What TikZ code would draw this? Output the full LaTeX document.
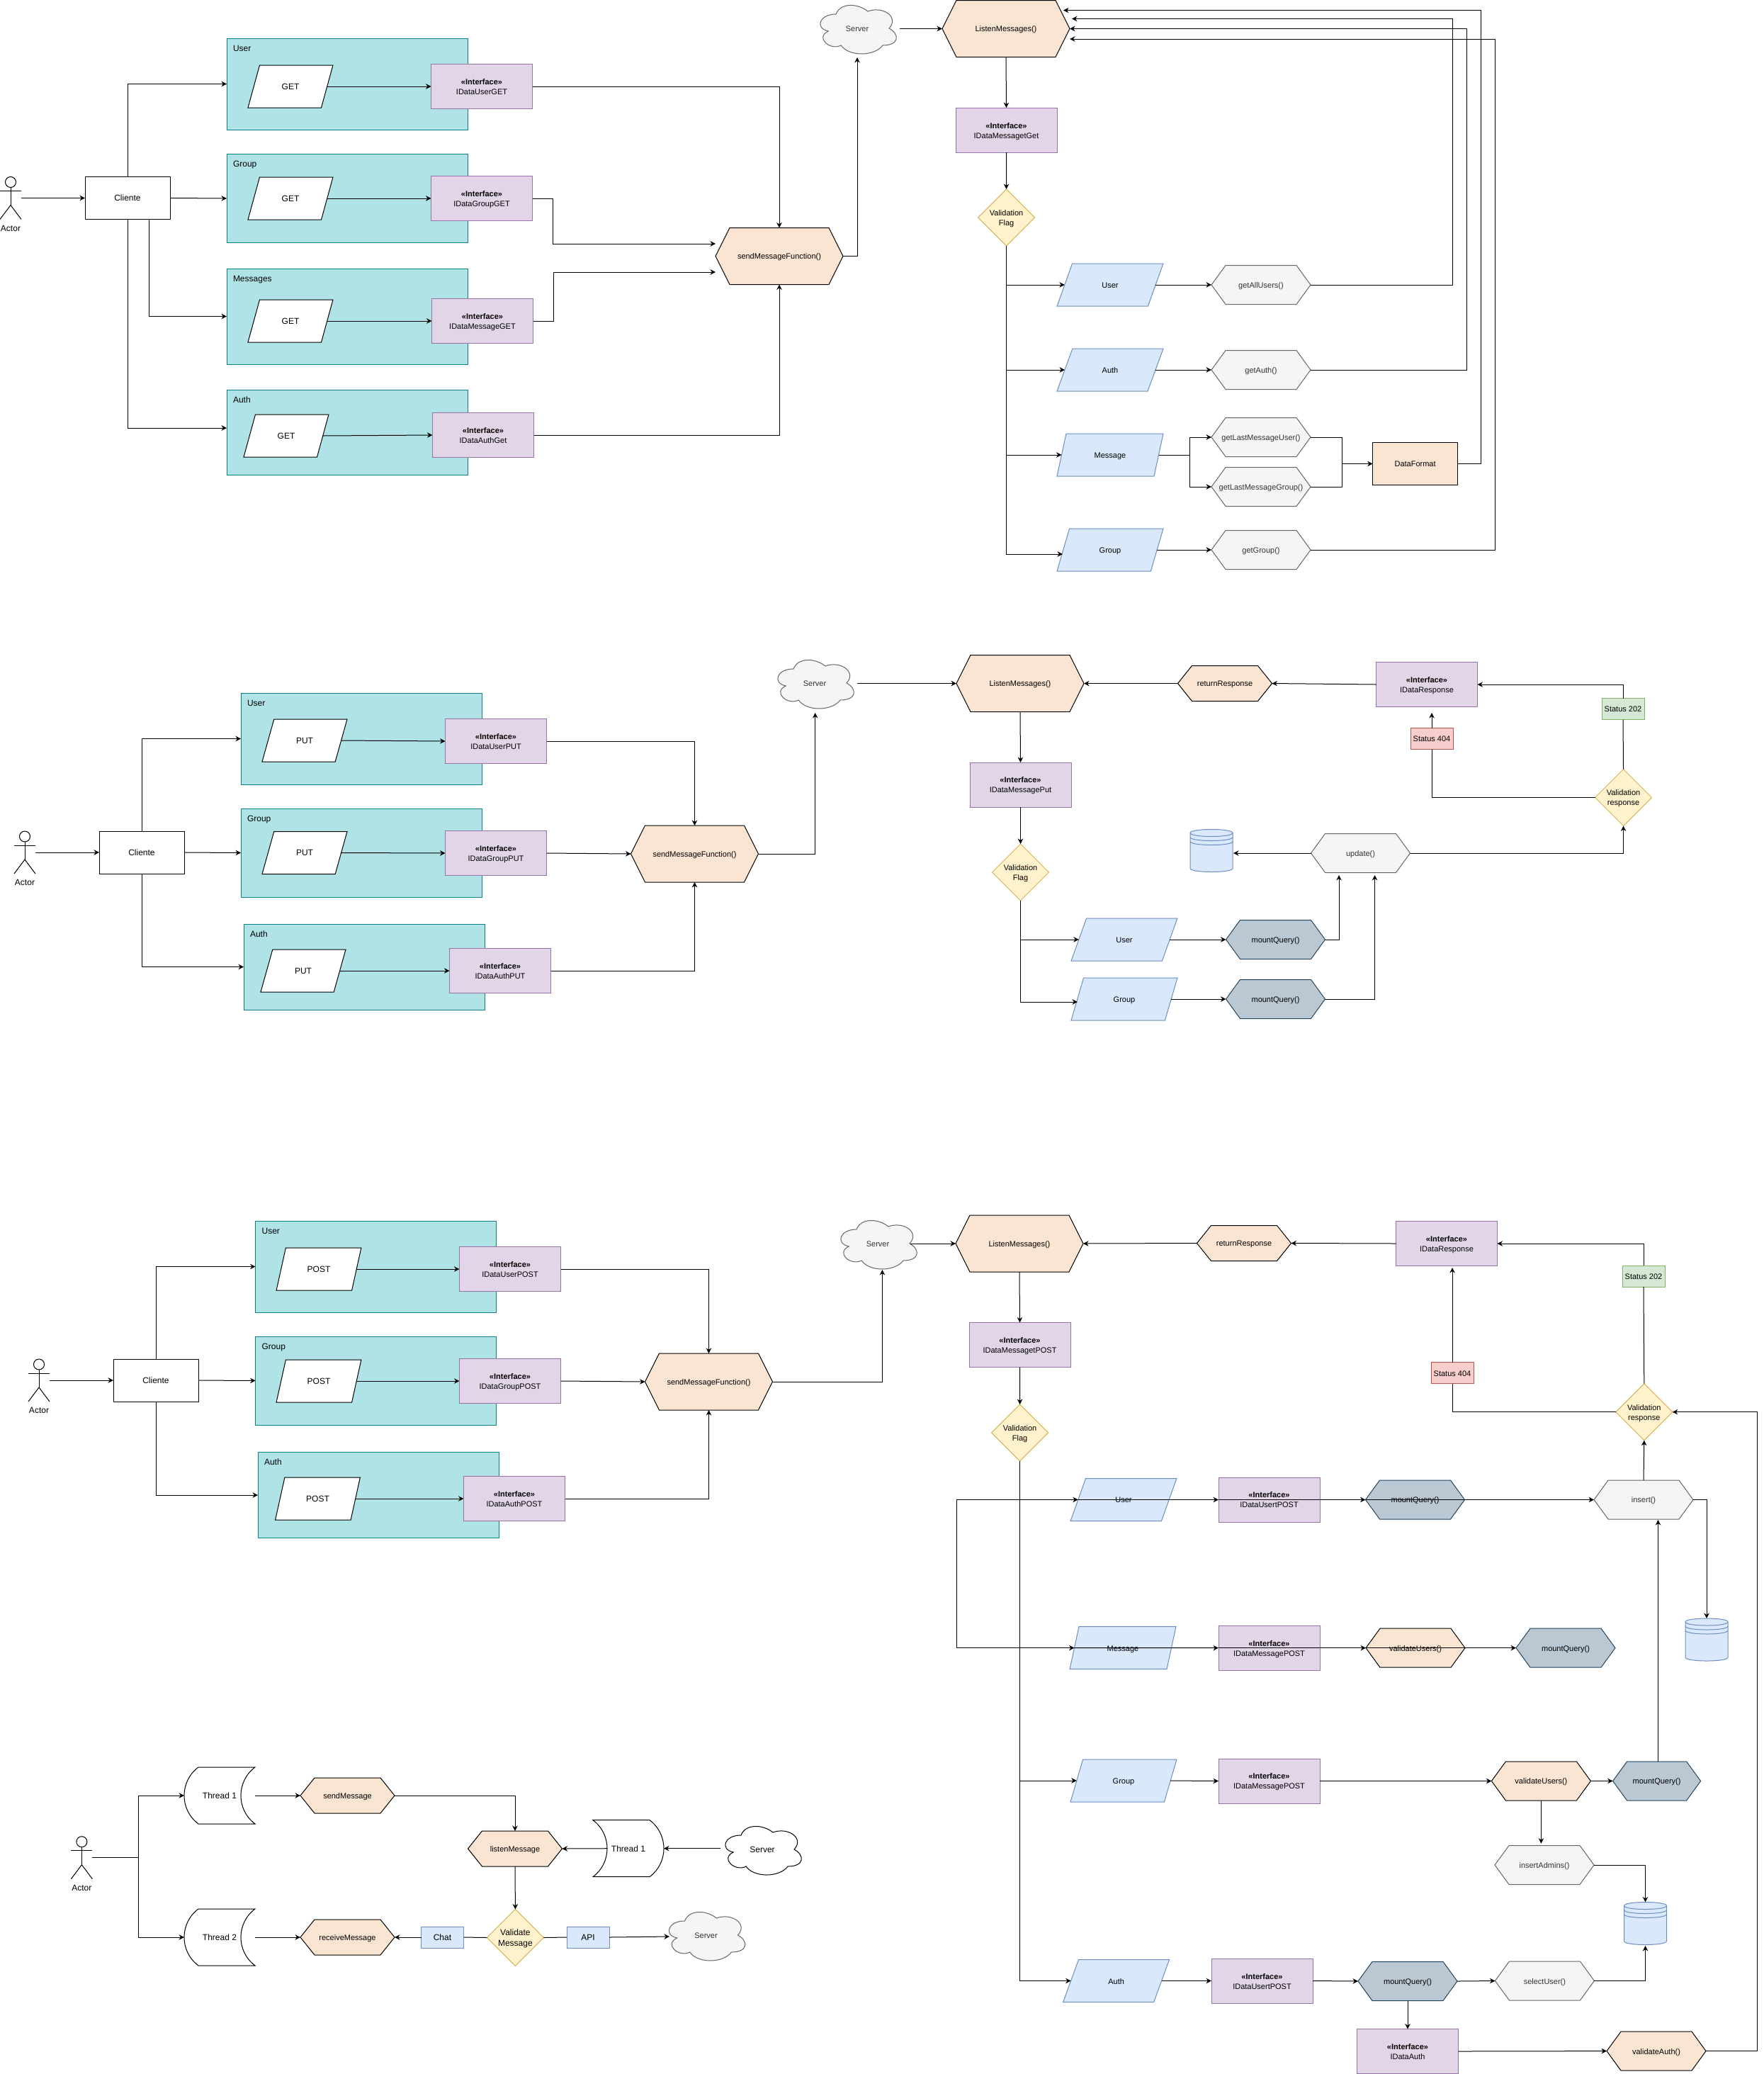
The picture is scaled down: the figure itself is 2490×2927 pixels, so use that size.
\documentclass[tikz,border=0pt]{standalone}
\usepackage{fontspec}
\setmainfont{Liberation Sans}
\usetikzlibrary{positioning,shapes.geometric,shapes.symbols,arrows.meta}

\newcommand{\px}{*0.75pt}
\newcommand{\fontS}{\fontsize{8.25}{10.5}\selectfont}
\newcommand{\fontM}{\fontsize{9}{11}\selectfont}
\newcommand{\tstrut}{\rule[-1.9pt]{0pt}{10.5pt}}
\newcommand{\hexlabel}[1]{\makebox[0pt]{\tstrut #1}}

\definecolor{tealFill}{HTML}{B0E3E6}
\definecolor{tealLine}{HTML}{0E8088}
\definecolor{purpleFill}{HTML}{E1D5E7}
\definecolor{purpleLine}{HTML}{9673A6}
\definecolor{orangeFill}{HTML}{FAE5D3}
\definecolor{blueFill}{HTML}{DAE8FC}
\definecolor{blueLine}{HTML}{6C8EBF}
\definecolor{greyFill}{HTML}{F5F5F5}
\definecolor{greyLine}{HTML}{666666}
\definecolor{greyText}{HTML}{333333}
\definecolor{yellowFill}{HTML}{FFF2CC}
\definecolor{yellowLine}{HTML}{D6B656}
\definecolor{redFill}{HTML}{F8CECC}
\definecolor{redLine}{HTML}{B85450}
\definecolor{greenFill}{HTML}{D5E8D4}
\definecolor{greenLine}{HTML}{82B366}
\definecolor{steelFill}{HTML}{BAC8D3}
\definecolor{steelLine}{HTML}{23445D}

\tikzset{
	every node/.style={inner sep=0pt, outer sep=0pt, align=center, font=\fontS},
	line/.style={line width=1\px, black},
	flow/.style={line, -{Stealth[length=7.5\px, width=7.5\px]}},
	box/.style 2 args={rectangle, minimum width=#1\px, minimum height=#2\px},
	hexa/.style 2 args={signal, signal to=east and west, signal pointer angle={2*atan(#2/40)},
		minimum width=#1\px, minimum height=#2\px},
	skew/.style={trapezium, trapezium left angle=71.57, trapezium right angle=108.43,
		trapezium stretches=true, minimum height=60\px},
	panel/.style={draw=tealLine, fill=tealFill, line width=1\px},
	paneltitle/.style={anchor=west, font=\fontM},
	method/.style={skew, minimum width=120\px, draw=black, fill=white, line width=1\px, font=\fontM},
	iface/.style={box={143}{63}, draw=purpleLine, fill=purpleFill, line width=1\px},
	datapara/.style={skew, minimum width=150\px, draw=blueLine, fill=blueFill, line width=1\px},
	orangehex/.style={draw=black, fill=orangeFill, line width=1\px},
	greyhex/.style={hexa={140}{55}, draw=greyLine, fill=greyFill, line width=1\px, text=greyText},
	steelhex/.style={hexa={140}{55}, draw=steelLine, fill=steelFill, line width=1\px},
	cliente/.style={box={120}{60}, draw=black, fill=white, line width=1\px, font=\fontM},
	check/.style={diamond, aspect=1, minimum width=80\px, minimum height=80\px,
		draw=yellowLine, fill=yellowFill, line width=1\px},
	status404/.style={box={60}{30}, draw=redLine, fill=redFill, line width=1\px},
	status202/.style={box={60}{30}, draw=greenLine, fill=greenFill, line width=1\px},
	tagbox/.style={box={60}{30}, draw=blueLine, fill=blueFill, line width=1\px, font=\fontM},
	greycloud/.style={draw=greyLine, fill=greyFill, line width=1\px},
	whitecloud/.style={draw=black, fill=white, line width=1\px},
	ghost/.style={box={#1}{60}},
}

% stick figure, centred on the node
\newcommand{\actorman}[3]{
	\node[ghost=30] (#1) at (#2,#3) {};
	\node[font=\fontM] (#1-lbl) at (#2,#3+42.5) {\tstrut Actor};
	\draw[line] (#2,#3-22.5) circle (7.5\px);
	\draw[line] (#2-15,#3-10) -- (#2+15,#3-10);
	\draw[line] (#2,#3-15) -- (#2,#3+10);
	\draw[line] (#2-15,#3+30) -- (#2,#3+10) -- (#2+15,#3+30);
}

% data store with its three rings
\newcommand{\datastore}[3]{
	\node[ghost=60] (#1) at (#2,#3) {};
	\draw[draw=blueLine, fill=blueFill, line width=1\px] (#2-30,#3-25)
		.. controls (#2-30,#3-31.67) and (#2+30,#3-31.67) .. (#2+30,#3-25)
		-- (#2+30,#3+25)
		.. controls (#2+30,#3+31.67) and (#2-30,#3+31.67) .. (#2-30,#3+25) -- cycle;
	\foreach \k in {0,6,12}
		\draw[draw=blueLine, line width=1\px] (#2-30,#3-25+\k)
			.. controls (#2-30,#3-18.33+\k) and (#2+30,#3-18.33+\k) .. (#2+30,#3-25+\k);
}

% server cloud, #4 = outline style, #5 = text style
\newcommand{\srvshape}[5]{
	\draw[#4] (#2-30,#3-20)
		.. controls (#2-54,#3-20) and (#2-60,#3) .. (#2-40.8,#3+4)
		.. controls (#2-60,#3+12.8) and (#2-38.4,#3+32) .. (#2-22.8,#3+24)
		.. controls (#2-12,#3+40) and (#2+24,#3+40) .. (#2+36,#3+24)
		.. controls (#2+60,#3+24) and (#2+60,#3+8) .. (#2+45,#3)
		.. controls (#2+60,#3-16) and (#2+36,#3-32) .. (#2+15,#3-24)
		.. controls (#2,#3-36) and (#2-24,#3-36) .. (#2-30,#3-20) -- cycle;
	\node[box={120}{80}, #5] (#1) at (#2,#3) {\tstrut Server};
}

% thread box, #2 = 1 or -1 for the side of the bulge
\newcommand{\threadbox}[5]{
	\node[box={100}{80}, font=\fontM] (#1) at (#3,#4) {\tstrut #5};
	\draw[line] (#3-#2*30,#4-40) -- (#3+#2*50,#4-40)
		.. controls (#3+#2*23.3,#4-20) and (#3+#2*23.3,#4+20) .. (#3+#2*50,#4+40)
		-- (#3-#2*30,#4+40)
		.. controls (#3-#2*56.7,#4+20) and (#3-#2*56.7,#4-20) .. (#3-#2*30,#4-40);
}

\begin{document}
\begin{tikzpicture}[x=0.75pt, y=-0.75pt]
	\useasboundingbox (0,0) rectangle (2490,2927);

	% panels with their method and interface
	\foreach \nm/\ttl/\pcx/\pcy/\ph/\meth/\mx/\my/\ix/\iy/\ifname in {
		userGet/User/490/118.5/129/GET/410/122/680/122/IDataUserGET,
		groupGet/Group/490/280/125/GET/410/280/680/280/IDataGroupGET,
		msgGet/Messages/490/446.5/135/GET/410/453/681/453/IDataMessageGET,
		authGet/Auth/490/610/120/GET/404/615/682/614/IDataAuthGet,
		userPut/User/510/1042.5/129/PUT/430/1045/700/1046/IDataUserPUT,
		groupPut/Group/510/1203.5/125/PUT/430/1203.5/700/1204/IDataGroupPUT,
		authPut/Auth/514/1364.5/121/PUT/428/1370/706/1370/IDataAuthPUT,
		userPost/User/530.6/1787.5/129/POST/450/1791/720/1791/IDataUserPOST,
		groupPost/Group/530.6/1948.5/125/POST/450/1949/720/1949/IDataGroupPOST,
		authPost/Auth/534/2110/121/POST/448.5/2115/726/2115/IDataAuthPOST} {
		\node[panel, box={340}{\ph}] (\nm-p) at (\pcx,\pcy) {};
		\node[paneltitle] (\nm-t) at ([xshift=9\px, yshift=-14\px]\nm-p.north west) {\tstrut\ttl};
		\node[method] (\nm-m) at (\mx,\my) {\tstrut\meth};
		\node[iface] (\nm-i) at (\ix,\iy) {\tstrut\textbf{«Interface»}\\\tstrut\ifname};
		\draw[flow] (\nm-m.right side) -- (\nm-i.west);
	}

	% clients and actors
	\node[cliente] (cliGet) at (180,279.5) {\tstrut Cliente};
	\node[cliente] (cliPut) at (200,1203) {\tstrut Cliente};
	\node[cliente] (cliPost) at (220,1948) {\tstrut Cliente};
	\actorman{actorGet}{15}{279.5}
	\actorman{actorPut}{35}{1203}
	\actorman{actorPost}{55}{1948}
	\actorman{actorMsg}{115.4}{2621.7}

	% big hexagons
	\foreach \nm/\lbl/\x/\y in {
		sendGet/sendMessageFunction()/1100/361.5,
		lstGet/ListenMessages()/1420/40.5,
		sendPut/sendMessageFunction()/980.5/1205,
		lstPut/ListenMessages()/1440/964.5,
		sendPost/sendMessageFunction()/1000.5/1950,
		lstPost/ListenMessages()/1439/1755}
		\node[hexa={180}{80}, orangehex] (\nm) at (\x,\y) {\hexlabel{\lbl}};

	% small orange hexagons
	\foreach \nm/\lbl/\x/\y in {
		retPut/returnResponse/1729/964.5,
		retPost/returnResponse/1756/1754.5,
		sendMsg/sendMessage/490.5/2534,
		recvMsg/receiveMessage/490.5/2734,
		lstMsg/listenMessage/727/2609}
		\node[hexa={133}{50}, orangehex] (\nm) at (\x,\y) {\hexlabel{\lbl}};
	\foreach \nm/\lbl/\x/\y in {
		valUsersMsg/validateUsers()/1998/2325.7,
		valUsersGrp/validateUsers()/2175.4/2513.5,
		valAuth/validateAuth()/2338/2894.6}
		\node[hexa={140}{55}, orangehex] (\nm) at (\x,\y) {\hexlabel{\lbl}};

	% interfaces of the right side
	\foreach \nm/\lbl/\x/\y in {
		ifGet/IDataMessagetGet/1420.5/183.7,
		ifPut/IDataMessagePut/1440.5/1107.5,
		ifPost/IDataMessagetPOST/1439.5/1898,
		ifRespPut/IDataResponse/2014/966,
		ifRespPost/IDataResponse/2042/1755,
		ifUserRow/IDataUsertPOST/1791.5/2116.5,
		ifMsgRow/IDataMessagePOST/1791.5/2325.7,
		ifGrpRow/IDataMessagePOST/1791.5/2513.5,
		ifAuthRow/IDataUsertPOST/1781.5/2795.5,
		ifAuth/IDataAuth/1987/2895}
		\node[iface] (\nm) at (\x,\y) {\tstrut\textbf{«Interface»}\\\tstrut\lbl};

	% blue parallelograms
	\foreach \nm/\lbl/\x/\y in {
		pUserGet/User/1567/402,
		pAuthGet/Auth/1567/522,
		pMsgGet/Message/1567/642,
		pGrpGet/Group/1567/776,
		pUserPut/User/1587/1326,
		pGrpPut/Group/1587/1410,
		pUserPost/User/1586/2116.5,
		pMsgPost/Message/1585/2325.6,
		pGrpPost/Group/1586/2513,
		pAuthPost/Auth/1575.6/2795.5}
		\node[datapara] (\nm) at (\x,\y) {\tstrut\lbl};

	% grey hexagons
	\foreach \nm/\lbl/\x/\y in {
		getUsers/getAllUsers()/1780/402,
		getAuth/getAuth()/1780/522,
		getLastUser/getLastMessageUser()/1780/617,
		getLastGroup/getLastMessageGroup()/1780/687,
		getGroup/getGroup()/1780/776,
		updatePut/update()/1920.5/1204,
		insertPost/insert()/2320/2116.5,
		insertAdm/insertAdmins()/2180/2632,
		selectUsr/selectUser()/2180.4/2795.5}
		\node[greyhex] (\nm) at (\x,\y) {\hexlabel{\lbl}};

	% dark hexagons
	\foreach \nm/\x/\y in {
		mntPutA/1800.5/1326,
		mntPutB/1800.5/1410,
		mntUser/1997.5/2116.5,
		mntMsg/2210/2325.7,
		mntAuth/1987/2796}
		\node[steelhex] (\nm) at (\x,\y) {\hexlabel{mountQuery()}};
	\node[steelhex, minimum width=124\px] (mntGrp) at (2338.6,2513.5) {\hexlabel{mountQuery()}};

	% decisions and statuses
	\foreach \nm/\lbla/\lblb/\x/\y in {
		flagGet/Validation/Flag/1420.6/307,
		flagPut/Validation/Flag/1440.5/1231,
		flagPost/Validation/Flag/1439.6/2022,
		respPut/Validation/response/2291.5/1125.5,
		respPost/Validation/response/2320.8/1992.7}
		\node[check] (\nm) at (\x,\y) {\tstrut\lbla\\\tstrut\lblb};
	\node[check, font=\fontM] (flagMsg) at (727.4,2734.5) {\tstrut Validate\\\tstrut Message};
	\node[status404] (st404Put) at (2021,1042.5) {\tstrut Status 404};
	\node[status202] (st202Put) at (2291,1000.5) {\tstrut Status 202};
	\node[status404] (st404Post) at (2050,1937.6) {\tstrut Status 404};
	\node[status202] (st202Post) at (2320,1801) {\tstrut Status 202};
	\node[box={120}{60}, orangehex] (fmtGet) at (1997.6,654.5) {\tstrut DataFormat};
	\node[tagbox] (chatTag) at (624.5,2734) {\tstrut Chat};
	\node[tagbox] (apiTag) at (830,2734) {\tstrut API};

	% clouds and stores
	\srvshape{srvGet}{1210}{40}{greycloud}{text=greyText}
	\srvshape{srvPut}{1150}{964}{greycloud}{text=greyText}
	\srvshape{srvPost}{1239}{1755}{greycloud}{text=greyText}
	\srvshape{srvMsgB}{996.5}{2731}{greycloud}{text=greyText}
	\srvshape{srvMsgA}{1076}{2610}{whitecloud}{font=\fontM}
	\datastore{dbPut}{1710}{1200.5}
	\datastore{dbUser}{2409}{2314}
	\datastore{dbGrp}{2322.5}{2714.5}

	% threads
	\threadbox{threadA}{1}{310}{2534}{Thread 1}
	\threadbox{threadB}{1}{310}{2734}{Thread 2}
	\threadbox{threadC}{-1}{887}{2608.7}{Thread 1}

	% free ends
	\coordinate (authGetIn) at (320,604);
	\coordinate (sendGetA) at (1010,344);
	\coordinate (sendGetB) at (1010,384);
	\coordinate (grpGetIn) at (1500,782);
	\coordinate (lstGetA) at (1501,14.6);
	\coordinate (lstGetB) at (1513,26.5);
	\coordinate (lstGetC) at (1510,55);
	\coordinate (srvGetIn) at (1210,81);
	\coordinate (srvPutIn) at (1150.7,1006);
	\coordinate (srvPostIn) at (1245.4,1792);
	\coordinate (srvPostOut) at (1285,1755);
	\coordinate (grpPutIn) at (1521,1414);
	\coordinate (updInA) at (1890,1235);
	\coordinate (updInB) at (1940.6,1235);
	\coordinate (dbPutIn) at (1741,1204);
	\coordinate (respInPut) at (2021,1006);
	\coordinate (respInPost) at (2050,1789);
	\coordinate (loopA) at (1350,2116.5);
	\coordinate (loopB) at (1350,2325.6);
	\coordinate (insertIn) at (2340.5,2145);
	\coordinate (admIn) at (2175.4,2601.7);
	\coordinate (dbGrpIn) at (2322.5,2746);
	\coordinate (forkMsg) at (195.4,2621.7);
	\coordinate (threadCout) at (857,2608.7);
	\coordinate (srvMsgAout) at (1017,2608.7);
	\coordinate (srvMsgBin) at (945,2733);

	% GET, left part
	\draw[flow] (actorGet.east) -- (cliGet.west);
	\draw[flow] (cliGet.north) |- (userGet-p.west);
	\draw[flow] (cliGet.east) -- (groupGet-p.west);
	\draw[flow] ([xshift=30\px]cliGet.south) |- (msgGet-p.west);
	\draw[flow] (cliGet.south) |- (authGetIn);
	\draw[flow] (userGet-i.east) -| (sendGet.north);
	\draw[flow] (groupGet-i.east) -- ++(29,0) |- (sendGetA);
	\draw[flow] (msgGet-i.east) -- ++(28.5,0) |- (sendGetB);
	\draw[flow] (authGet-i.east) -| (sendGet.south);
	\draw[flow] (sendGet.east) -| (srvGetIn);

	% GET, right part
	\draw[flow] (srvGet.east |- lstGet.west) -- (lstGet.west);
	\draw[flow] (lstGet.south) -- (ifGet.north);
	\draw[flow] (ifGet.south) -- (flagGet.north);
	\foreach \target in {pUserGet, pAuthGet, pMsgGet}
		\draw[flow] (flagGet.south) |- (\target.left side);
	\draw[flow] (flagGet.south) |- (grpGetIn);
	\draw[flow] (pUserGet.right side) -- (getUsers.west);
	\draw[flow] (pAuthGet.right side) -- (getAuth.west);
	\draw[flow] (pGrpGet.right side) -- (getGroup.west);
	\draw[line] (pMsgGet.right side) -- ++(44,0) coordinate (forkGet);
	\draw[flow] (forkGet) |- (getLastUser.west);
	\draw[flow] (forkGet) |- (getLastGroup.west);
	\draw[line] (getLastUser.east) -- ++(44,0) coordinate (joinGet) -- (joinGet |- getLastGroup.east) -- (getLastGroup.east);
	\draw[flow] (joinGet |- fmtGet.west) -- (fmtGet.west);
	\draw[flow] (getUsers.east) -- ++(200.5,0) |- (lstGetB);
	\draw[flow] (getAuth.east) -- ++(220,0) |- (lstGet.east);
	\draw[flow] (fmtGet.east) -- ++(33,0) |- (lstGetA);
	\draw[flow] (getGroup.east) -- ++(260,0) |- (lstGetC);

	% PUT, left part
	\draw[flow] (actorPut.east) -- (cliPut.west);
	\draw[flow] (cliPut.north) |- (userPut-p.west);
	\draw[flow] (cliPut.east) -- (groupPut-p.west);
	\draw[flow] (cliPut.south) |- (authPut-p.west);
	\draw[flow] (userPut-i.east) -| (sendPut.north);
	\draw[flow] (groupPut-i.east) -- (sendPut.west);
	\draw[flow] (authPut-i.east) -| (sendPut.south);
	\draw[flow] (sendPut.east) -| (srvPutIn);

	% PUT, right part
	\draw[flow] (srvPut.east |- lstPut.west) -- (lstPut.west);
	\draw[flow] (retPut.west) -- (lstPut.east);
	\draw[flow] (ifRespPut.west) -- (retPut.east);
	\draw[flow] (lstPut.south) -- (ifPut.north);
	\draw[flow] (ifPut.south) -- (flagPut.north);
	\draw[flow] (flagPut.south) |- (pUserPut.left side);
	\draw[flow] (flagPut.south) |- (grpPutIn);
	\draw[flow] (pUserPut.right side) -- (mntPutA.west);
	\draw[flow] (pGrpPut.right side) -- (mntPutB.west);
	\draw[flow] (mntPutA.east) -| (updInA);
	\draw[flow] (mntPutB.east) -| (updInB);
	\draw[flow] (updatePut.west) -- (dbPutIn);
	\draw[flow] (updatePut.east) -| (respPut.south);
	\draw[line] (respPut.north) -- (st202Put.south);
	\draw[flow] (st202Put.north) |- (ifRespPut.east);
	\draw[line] (respPut.west) -| (st404Put.south);
	\draw[flow] (st404Put.north) -- (respInPut);

	% POST, left part
	\draw[flow] (actorPost.east) -- (cliPost.west);
	\draw[flow] (cliPost.north) |- (userPost-p.west);
	\draw[flow] (cliPost.east) -- (groupPost-p.west);
	\draw[flow] (cliPost.south) |- (authPost-p.west);
	\draw[flow] (userPost-i.east) -| (sendPost.north);
	\draw[flow] (groupPost-i.east) -- (sendPost.west);
	\draw[flow] (authPost-i.east) -| (sendPost.south);
	\draw[flow] (sendPost.east) -| (srvPostIn);

	% POST, right part
	\draw[flow] (srvPostOut) -- (lstPost.west);
	\draw[flow] (retPost.west) -- (lstPost.east);
	\draw[flow] (ifRespPost.west) -- (retPost.east);
	\draw[flow] (lstPost.south) -- (ifPost.north);
	\draw[flow] (ifPost.south) -- (flagPost.north);
	\draw[flow] (flagPost.south) |- (pGrpPost.left side);
	\draw[flow] (flagPost.south) |- (pAuthPost.left side);
	\draw[line] (loopA) -- (loopB);
	\draw[flow] (loopA) -- (pUserPost.left side);
	\draw[flow] (loopB) -- (pMsgPost.left side);
	\draw[flow] (pUserPost.left side) -- (ifUserRow.west);
	\draw[flow] (ifUserRow.west) -- (mntUser.west);
	\draw[flow] (mntUser.west) -- (insertPost.west);
	\draw[flow] (pMsgPost.left side) -- (ifMsgRow.west);
	\draw[flow] (ifMsgRow.west) -- (valUsersMsg.west);
	\draw[flow] (valUsersMsg.west) -- (mntMsg.west);
	\draw[flow] (pGrpPost.right side) -- (ifGrpRow.west);
	\draw[flow] (ifGrpRow.east) -- (valUsersGrp.west);
	\draw[flow] (valUsersGrp.east) -- (mntGrp.west);
	\draw[flow] (mntGrp.north -| insertIn) -- (insertIn);
	\draw[flow] (valUsersGrp.south) -- (admIn);
	\draw[flow] (insertAdm.east) -| (dbGrp.north);
	\draw[flow] (pAuthPost.right side) -- (ifAuthRow.west);
	\draw[flow] (ifAuthRow.east) -- (mntAuth.west);
	\draw[flow] (mntAuth.east) -- (selectUsr.west);
	\draw[flow] (selectUsr.east) -| (dbGrpIn);
	\draw[flow] (mntAuth.south) -- (ifAuth.north);
	\draw[flow] (ifAuth.east) -- (valAuth.west);
	\draw[flow] (valAuth.east) -- ++(72,0) |- (respPost.east);
	\draw[flow] (insertPost.north) -- (respPost.south);
	\draw[flow] (insertPost.east) -| (dbUser.north);
	\draw[line] (respPost.north) -- (st202Post.south);
	\draw[flow] (st202Post.north) |- (ifRespPost.east);
	\draw[line] (respPost.west) -| (st404Post.south);
	\draw[flow] (st404Post.north) -- (respInPost);

	% threads part
	\draw[line] (actorMsg.east) -- (forkMsg);
	\draw[flow] (forkMsg) |- (threadA.west);
	\draw[flow] (forkMsg) |- (threadB.west);
	\draw[flow] (threadA.east) -- (sendMsg.west);
	\draw[flow] (threadB.east) -- (recvMsg.west);
	\draw[flow] (sendMsg.east) -| (lstMsg.north);
	\draw[flow] (lstMsg.south) -- (flagMsg.north);
	\draw[flow] (srvMsgAout) -- (threadC.east);
	\draw[flow] (threadCout) -- (lstMsg.east);
	\draw[line] (flagMsg.west) -- (chatTag.east);
	\draw[flow] (chatTag.west) -- (recvMsg.east);
	\draw[line] (flagMsg.east) -- (apiTag.west);
	\draw[flow] (apiTag.east) -- (srvMsgBin);
\end{tikzpicture}
\end{document}
